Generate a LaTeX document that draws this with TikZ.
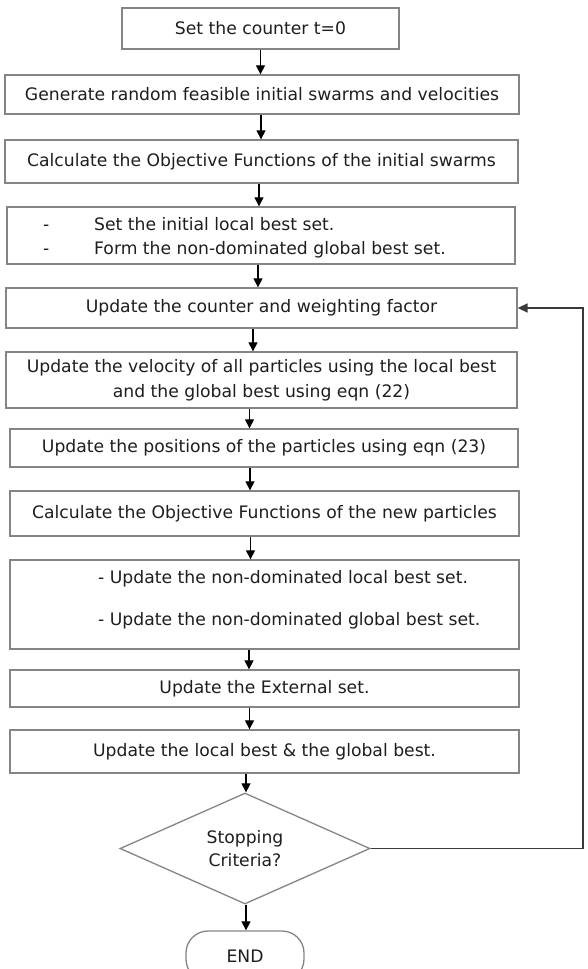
\documentclass[tikz,border=0pt]{standalone}
\usepackage{fontspec}
\setmainfont{DejaVu Sans}
\usetikzlibrary{shapes.geometric,arrows.meta}
\definecolor{boxgray}{HTML}{858585}
\definecolor{loopgray}{HTML}{3A3A3A}
\definecolor{txtc}{HTML}{1E1E1E}
\begin{document}
\begin{tikzpicture}[x=1pt,y=-1pt,
  box/.style={draw=boxgray, line width=1.3pt, inner sep=0pt, text=txtc,
    font=\fontsize{17.2}{25}\selectfont, align=center},
  txt/.style={inner sep=0pt, text=txtc, font=\fontsize{17.2}{19}\selectfont},
  arr/.style={draw=black, line width=1.1pt, -{Triangle[length=9pt,width=9pt]}},
  loopline/.style={draw=loopgray, line width=1.6pt, -{Triangle[length=10pt,width=9pt]}},
  dia/.style={diamond, draw=boxgray, line width=1.3pt, inner sep=0pt, shape aspect=2.25,
    minimum width=250pt, minimum height=111pt, text=txtc, align=center,
    font=\fontsize{17.2}{23}\selectfont},
  endbox/.style={draw=boxgray, line width=1.3pt, rounded corners=22pt, inner sep=0pt,
    minimum width=118pt, minimum height=50pt, text=txtc, font=\fontsize{17.2}{19}\selectfont}
]
\useasboundingbox (0,0) rectangle (588,969);
\fill[white] (0,0) rectangle (588,969);
\clip (0,0) rectangle (588,969);

\node[box, minimum width=277pt, minimum height=41pt] (b1) at (260.5,28.5) {Set the counter t=0};
\node[box, minimum width=514pt, minimum height=39pt] (b2) at (262,94.5) {Generate random feasible initial swarms and velocities};
\node[box, minimum width=513pt, minimum height=43pt] (b3) at (261.5,161.5) {Calculate the Objective Functions of the initial swarms};
\node[box, minimum width=508pt, minimum height=57pt] (b4) at (261,235.5) {};
\node[txt, anchor=base west] (b4d1) at (43,230) {-};
\node[txt, anchor=base west] (b4t1) at (94,230) {Set the initial local best set.};
\node[txt, anchor=base west] (b4d2) at (43,254) {-};
\node[txt, anchor=base west] (b4t2) at (94,254) {Form the non-dominated global best set.};
\node[box, minimum width=511pt, minimum height=40pt] (b5) at (261.5,308) {Update the counter and weighting factor};
\node[box, minimum width=511pt, minimum height=56pt] (b6) at (261.5,380) {Update the velocity of all particles using the local best\\and the global best using eqn (22)};
\node[box, minimum width=508pt, minimum height=38pt] (b7) at (264,448) {Update the positions of the particles using eqn (23)};
\node[box, minimum width=509pt, minimum height=45pt] (b8) at (264.5,513.5) {Calculate the Objective Functions of the new particles};
\node[box, minimum width=509pt, minimum height=89pt] (b9) at (264.5,604.5) {};
\node[txt, anchor=base west] (b9t1) at (98,583) {- Update the non-dominated local best set.};
\node[txt, anchor=base west] (b9t2) at (98,625) {- Update the non-dominated global best set.};
\node[box, minimum width=509pt, minimum height=37pt] (b10) at (264.5,688.5) {Update the External set.};
\node[box, minimum width=509pt, minimum height=43pt] (b11) at (264.5,751.5) {Update the local best \& the global best.};
\node[dia] (d) at (245,848.5) {Stopping\\Criteria?};
\node[endbox] (e) at (245,956) {END};

\draw[arr] (b1.south) -- (b1.south |- b2.north);
\draw[arr] ([xshift=-1pt]b2.south) -- ([xshift=-1pt]b2.south |- b3.north);
\draw[arr] ([xshift=-2.5pt]b3.south) -- ([xshift=-2.5pt]b3.south |- b4.north);
\draw[arr] ([xshift=-3pt]b4.south) -- ([xshift=-3pt]b4.south |- b5.north);
\draw[arr] ([xshift=-8.5pt]b5.south) -- ([xshift=-8.5pt]b5.south |- b6.north);
\draw[arr] ([xshift=-12pt]b6.south) -- ([xshift=-12pt]b6.south |- b7.north);
\draw[arr] ([xshift=-14pt]b7.south) -- ([xshift=-14pt]b7.south |- b8.north);
\draw[arr] ([xshift=-14pt]b8.south) -- ([xshift=-14pt]b8.south |- b9.north);
\draw[arr] ([xshift=-15.5pt]b9.south) -- ([xshift=-15.5pt]b9.south |- b10.north);
\draw[arr] ([xshift=-15pt]b10.south) -- ([xshift=-15pt]b10.south |- b11.north);
\draw[arr] ([xshift=-18.5pt]b11.south) -- ([xshift=-18.5pt]b11.south |- d.north);
\draw[arr] ([xshift=1pt]d.south) -- ([xshift=1pt]d.south |- e.north);

\coordinate (r) at (583,848.5);
\draw[loopline] (d.east) -- (r) |- (b5.east);
\end{tikzpicture}
\end{document}
